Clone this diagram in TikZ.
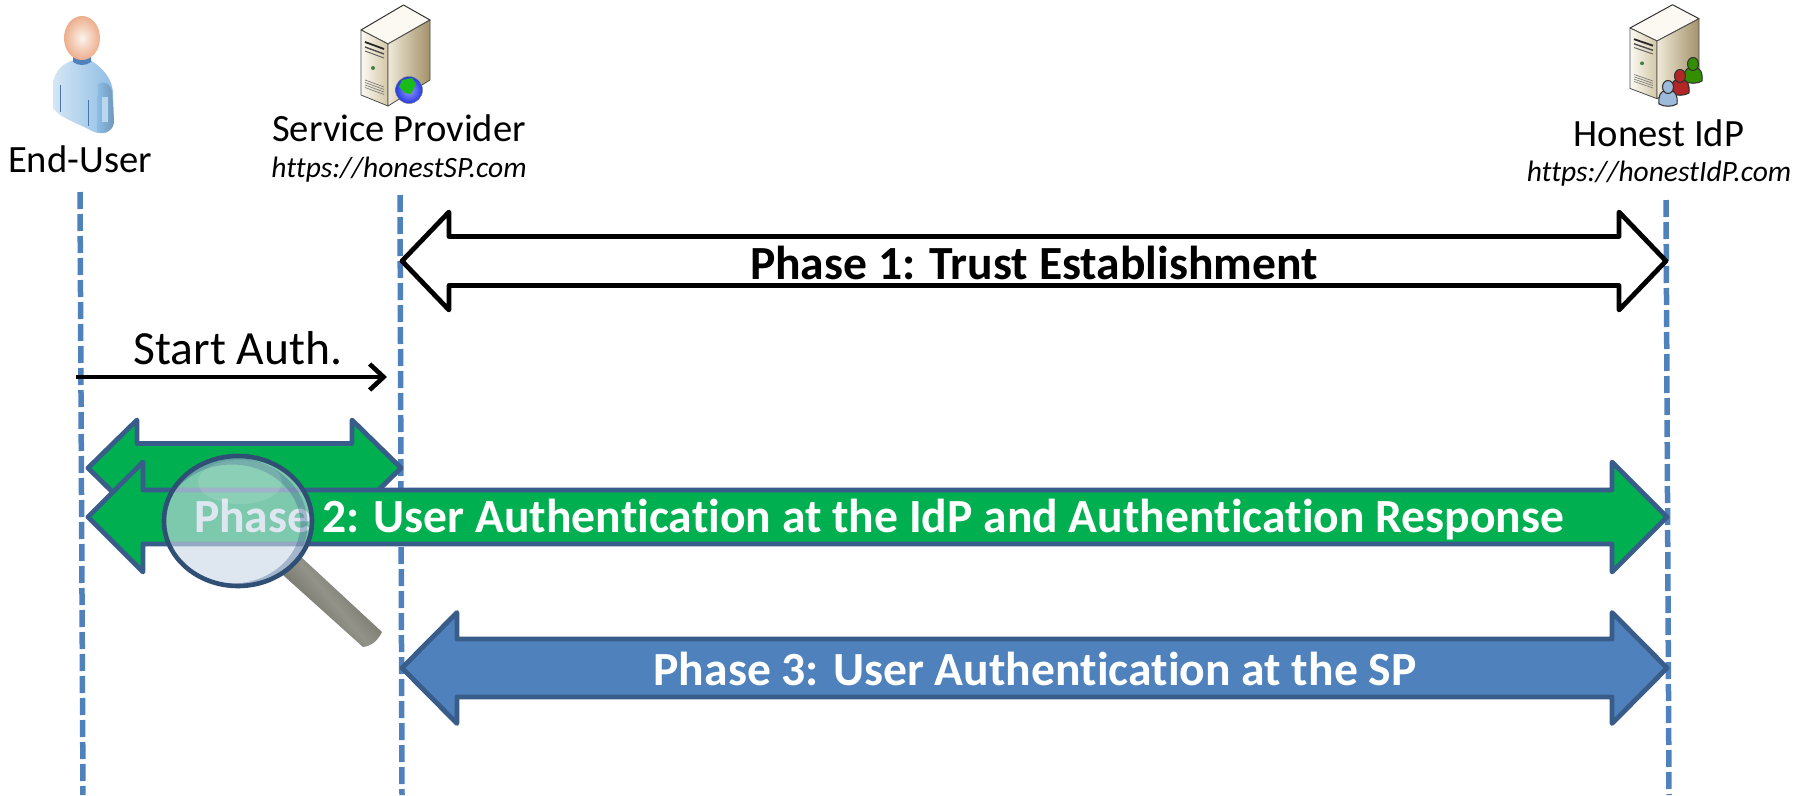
\documentclass[tikz,border=0pt]{standalone}
\usepackage{fontspec}
\setmainfont[Ligatures=NoCommon]{Carlito}
\usetikzlibrary{arrows.meta,calc}
\definecolor{lifeblue}{HTML}{4F81BD}
\definecolor{edgeblue}{HTML}{385D8A}
\definecolor{arrowgreen}{HTML}{00B050}
\definecolor{creamA}{HTML}{FBF9F2}
\definecolor{creamB}{HTML}{EFE9D8}
\definecolor{creamC}{HTML}{D3C7A6}
\definecolor{creamD}{HTML}{A3926A}
\definecolor{bodyA}{HTML}{D4E6F3}
\definecolor{bodyB}{HTML}{8DBDE6}
\definecolor{bodyC}{HTML}{B9D8EF}
\definecolor{peachA}{HTML}{FBF3EC}
\definecolor{peachB}{HTML}{EDAE8C}
\definecolor{lensfill}{HTML}{CBD9E8}
\definecolor{handleA}{HTML}{5E5E55}
\definecolor{handleB}{HTML}{93938A}
\tikzset{
  lifeline/.style={draw=lifeblue,line width=5.5pt,dash pattern=on 17pt off 5pt},
  blockwhite/.style={draw=black,fill=white,line width=4.8pt,line join=round},
  blockgreen/.style={draw=edgeblue,fill=arrowgreen,line width=4.8pt,line join=round},
  blockblue/.style={draw=edgeblue,fill=lifeblue,line width=4.8pt,line join=round},
  actorlabel/.style={font=\fontsize{38.6}{38.6}\selectfont,text=black,inner sep=0pt},
  urllabel/.style={font=\fontsize{29.5}{29.5}\selectfont\itshape,text=black,inner sep=0pt},
  phaselabel/.style={font=\fontsize{47.6}{47.6}\selectfont\bfseries,inner sep=0pt},
}
% x1 x2 yc headlen halfshaft halfhead style
\newcommand{\blockarrow}[7]{%
  \path[#7] (#1,#3) -- (#1+#4,#3-#6) -- (#1+#4,#3-#5) -- (#2-#4,#3-#5) -- (#2-#4,#3-#6)
    -- (#2,#3) -- (#2-#4,#3+#6) -- (#2-#4,#3+#5) -- (#1+#4,#3+#5) -- (#1+#4,#3+#6) -- cycle;}
% origin at left-top corner of tower, vertical scale #3
\newcommand{\servertower}[3]{%
  \begin{scope}[shift={(#1,#2)},yscale=#3]
    \path[fill=creamA,draw=black!80,line width=1pt,line join=round]
      (0,0) -- (42.5,-25) -- (69,-10) -- (27,14) -- cycle;
    \path[left color=creamA,right color=creamC,draw=black!70,line width=.8pt,line join=round]
      (0,0) -- (27,14) -- (27,76) -- (0,65) -- cycle;
    \path[left color=creamB,right color=creamD,draw=black!70,line width=.8pt,line join=round]
      (27,14) -- (69,-10) -- (69,50) -- (27,76) -- cycle;
    \draw[line width=1.8pt,black!85] (4,12) -- (23,19);
    \draw[line width=1.4pt,black!70] (4,17) -- (23,24);
    \draw[line width=1pt,black!60] (4,21) -- (23,28);
    \fill[black!50!green!50!gray] (12,38) circle (2pt);
    \foreach \i in {0,1,2,3}{\draw[line width=.6pt,black!55] (4,50+2.5*\i) -- (23,57+2.5*\i);}
  \end{scope}}
% small person at centre, scale #3, fill #4
\newcommand{\smallperson}[4]{%
  \begin{scope}[shift={(#1,#2)},scale=#3]
    \path[fill=#4,draw=black!80,line width=1.1pt,line join=round]
      (-9,9) .. controls (-10,0) and (-7,-3) .. (-4,-4) -- (4,-4) .. controls (7,-3) and (10,0) .. (9,9)
      .. controls (4,12) and (-4,12) .. (-9,9) -- cycle;
    \path[fill=#4,draw=black!80,line width=1.1pt] (0,-8) ellipse (5.5 and 6.5);
  \end{scope}}
\begin{document}
\begin{tikzpicture}[x=1pt,y=-1pt]
\useasboundingbox[fill=white] (0,0) rectangle (1812,795);

% lifelines
\coordinate (ut) at (80,192); \coordinate (ub) at (83,795);
\coordinate (st) at (400,195); \coordinate (sb) at (402,795);
\coordinate (it) at (1666,200); \coordinate (ib) at (1669,795);
\draw[lifeline] (ut) -- (ub);
\draw[lifeline] (st) -- (sb);
\draw[lifeline] (it) -- (ib);

% user icon
\path[left color=bodyA,right color=bodyB]
  (74,60) .. controls (64,63) and (54,70) .. (53,85) -- (53,108)
  .. controls (60,118) and (75,122) .. (90,130) .. controls (102,137) and (113,132) .. (114,122)
  -- (113,92) .. controls (112,80) and (104,68) .. (90,60) -- cycle;
\path[left color=bodyB,right color=bodyB!80!black] (98,84) .. controls (104,80) and (111,84) .. (112,92)
  -- (114,122) .. controls (113,131) and (104,135) .. (97,132) -- cycle;
\path[fill=bodyC] (102,97) rectangle (108,122);
\draw[lifeblue!90!black,line width=.6pt] (60,85) -- (60,112);
\draw[lifeblue!90!black,line width=.6pt] (88,100) -- (88,126);
\path[fill=lifeblue] (73,57) -- (91,57) -- (91,62) .. controls (86,66) and (78,66) .. (73,62) -- cycle;
\shade[inner color=peachA,outer color=peachB] (82,38) ellipse (18 and 22);

% server icons
\servertower{361}{30}{1}
\shade[inner color=blue!40!white,outer color=blue!55!lifeblue,draw=black!50,line width=.5pt] (409,90) circle (13.5);
\path[fill=green!70!black!90!white] (402,80) -- (412,78) -- (416,84) -- (411,94) -- (405,93) -- (399,87) -- cycle;
\servertower{1630}{28}{.93}
\smallperson{1693}{72}{1}{green!45!black!80!yellow}
\smallperson{1680}{84}{1}{red!65!black!85!white}
\smallperson{1668}{95}{1}{lifeblue!55!white}

% labels
\node[actorlabel] (enduser) at (80,159.5) {End-User};
\node[actorlabel] (sp) at (399,128) {Service Provider};
\node[urllabel] (spurl) at (399,170) {https://honestSP.com};
\node[actorlabel] (idp) at (1659,133) {Honest IdP};
\node[urllabel] (idpurl) at (1659,174) {https://honestIdP.com};

% phase 1
\blockarrow{402}{1666}{261}{47}{24.5}{49}{blockwhite}
\node[phaselabel,text=black] (p1) at (1034,263) {Phase 1: Trust Establishment};

% start auth
\coordinate (sa1) at (76,377); \coordinate (sa2) at (387,377);
\draw[line width=4.6pt,-{Straight Barb[length=14pt,width=26pt,line width=4.6pt]}] (sa1) -- (sa2);
\node[font=\fontsize{47.6}{47.6}\selectfont,inner sep=0pt] (start) at (238,348) {Start Auth.};

% phase 2
\blockarrow{88}{401}{468}{49}{24.5}{48}{blockgreen}
\blockarrow{88}{1667}{517}{55}{27}{55}{blockgreen}
\node[phaselabel,text=white] (p2) at (879,520) {Phase 2: User Authentication at the IdP and Authentication Response};

% phase 3
\blockarrow{402}{1667}{668}{55}{29}{55.5}{blockblue}
\node[phaselabel,text=white] (p3) at (1035,669) {Phase 3: User Authentication at the SP};

% magnifier
\path[top color=handleA,bottom color=handleA,middle color=handleB,shading angle=-50]
  (283,575) -- (300,556) -- (382,632) .. controls (378,640) and (372,646) .. (363,647) -- cycle;
\path[fill=lensfill,fill opacity=.62] (238,521) ellipse (74 and 65);
\begin{scope}
  \clip (238,521) ellipse (74 and 65);
  \path[draw=edgeblue,draw opacity=.35,line width=7pt] (232,524) ellipse (72 and 63);
  \path[fill=white,fill opacity=.12] (240,482) ellipse (42 and 22);
\end{scope}
\path[draw=edgeblue!85!black,line width=4.6pt] (238,521) ellipse (74 and 65);
\end{tikzpicture}
\end{document}
